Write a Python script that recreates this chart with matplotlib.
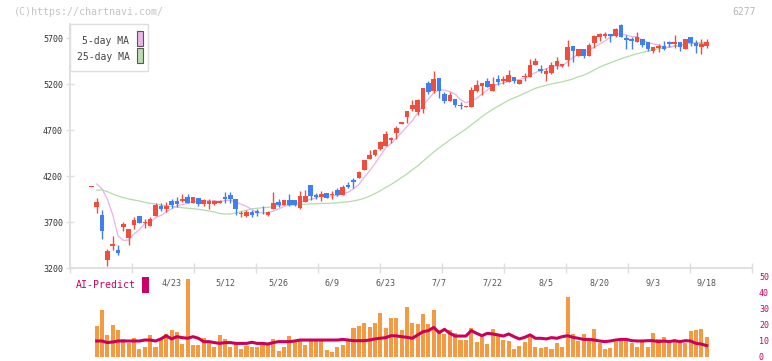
import numpy as np
import pandas as pd
import matplotlib
matplotlib.use("Agg")
import matplotlib.pyplot as plt
from matplotlib.patches import Rectangle
from matplotlib.transforms import blended_transform_factory

plt.rcParams['font.family'] = ['DejaVu Sans Mono']

# ---------------- data ----------------
opens = [4080, 3866, 3776, 3287, 3439, 3396, 3649, 3529, 3667, 3765,
         3692, 3660, 3765, 3870, 3845, 3928, 3928, 3928, 3972, 3910,
         3957, 3892, 3892, 3896, 3910, 3975, 3997, 3950, 3787, 3765,
         3812, 3823, 3812, 3776, 3841, 3914, 3885, 3939, 3939, 3856,
         3921, 4102, 3993, 3968, 4018, 3990, 4048, 3993, 4102, 4157,
         4182, 4265, 4385, 4428, 4490, 4530, 4591, 4671, 4762, 4845,
         4925, 4900, 4925, 5207, 5124, 5269, 5091, 5019, 5037, 4972,
         4946, 4950, 5124, 5182, 5233, 5124, 5251, 5236, 5226, 5273,
         5197, 5280, 5280, 5407, 5363, 5305, 5323, 5396, 5396, 5461,
         5614, 5508, 5581, 5508, 5642, 5714, 5725, 5744, 5722, 5841,
         5700, 5689, 5660, 5689, 5653, 5555, 5595, 5613, 5660, 5631,
         5660, 5577, 5707, 5646, 5599, 5617]
highs = [4080, 3961, 3830, 3407, 3548, 3450, 3703, 3624, 3751, 3765,
         3729, 3758, 3903, 3903, 3916, 3946, 3975, 4004, 4001, 3972,
         3957, 3950, 3946, 3935, 3940, 4026, 4026, 3950, 3816, 3830,
         3830, 3841, 3874, 3820, 4026, 3950, 3939, 4004, 3939, 4040,
         4044, 4102, 4010, 4040, 4018, 4040, 4066, 4102, 4138, 4175,
         4254, 4374, 4483, 4494, 4584, 4693, 4628, 4744, 4790, 4907,
         5026, 5034, 5160, 5236, 5341, 5269, 5117, 5110, 5037, 5004,
         4961, 5164, 5240, 5215, 5262, 5280, 5298, 5290, 5356, 5273,
         5244, 5320, 5469, 5479, 5407, 5374, 5436, 5490, 5420, 5678,
         5614, 5581, 5581, 5642, 5733, 5751, 5762, 5744, 5809, 5852,
         5733, 5707, 5769, 5689, 5653, 5599, 5635, 5668, 5668, 5733,
         5660, 5689, 5707, 5682, 5689, 5689]
lows = [4080, 3795, 3515, 3222, 3396, 3341, 3605, 3450, 3624, 3686,
        3638, 3660, 3765, 3823, 3812, 3849, 3866, 3914, 3903, 3903,
        3877, 3877, 3837, 3890, 3905, 3903, 3903, 3776, 3758, 3751,
        3751, 3770, 3783, 3770, 3841, 3859, 3880, 3870, 3870, 3841,
        3921, 3939, 3950, 3932, 3964, 3950, 3983, 3993, 4066, 4073,
        4182, 4265, 4385, 4421, 4483, 4530, 4555, 4602, 4762, 4779,
        4903, 4859, 4885, 5088, 5106, 5048, 4997, 5019, 4946, 4925,
        4946, 4950, 5110, 5084, 5171, 5124, 5189, 5200, 5226, 5215,
        5197, 5236, 5280, 5407, 5320, 5236, 5305, 5363, 5390, 5396,
        5443, 5508, 5486, 5508, 5588, 5668, 5700, 5653, 5711, 5707,
        5584, 5584, 5660, 5602, 5555, 5537, 5548, 5570, 5606, 5588,
        5555, 5577, 5617, 5537, 5530, 5588]
closes = [4080, 3917, 3606, 3388, 3464, 3366, 3678, 3624, 3722, 3692,
          3703, 3733, 3885, 3841, 3874, 3888, 3892, 3950, 3910, 3972,
          3892, 3939, 3928, 3925, 3928, 3946, 3950, 3838, 3801, 3812,
          3776, 3797, 3805, 3812, 3903, 3885, 3939, 3885, 3885, 3983,
          3983, 3983, 3975, 4004, 3964, 3997, 3993, 4084, 4084, 4138,
          4247, 4374, 4428, 4483, 4573, 4657, 4617, 4725, 4790, 4907,
          4972, 5026, 5160, 5110, 5254, 5128, 5015, 5081, 4968, 4956,
          4961, 5135, 5189, 5215, 5171, 5200, 5218, 5251, 5298, 5233,
          5244, 5287, 5407, 5450, 5341, 5341, 5407, 5450, 5414, 5606,
          5559, 5581, 5508, 5624, 5721, 5740, 5744, 5722, 5798, 5714,
          5675, 5671, 5707, 5620, 5584, 5599, 5613, 5577, 5631, 5660,
          5606, 5689, 5646, 5609, 5638, 5660]

# moving averages at the start of the window (earlier data not shown)
ma5_head = [np.nan, 4113, 4060, 3950, 3780]
ma25_head = [np.nan, 4045, 4050, 4030, 4004, 3983, 3964, 3950, 3939, 3928,
             3914, 3903, 3896, 3885, 3877, 3870, 3862, 3855, 3850, 3845,
             3838, 3830, 3820, 3808]

# volume (candle 1 onward) and AI-Predict line
volume = [19.4, 29.4, 13.8, 20.0, 16.9, 11.0, 8.5, 11.7, 5.0, 6.5,
          13.8, 6.0, 11.7, 14.2, 16.9, 15.4, 8.1, 48.8, 7.5, 7.5,
          11.7, 8.5, 6.5, 13.8, 11.3, 6.5, 8.1, 4.8, 6.9, 6.0,
          6.0, 7.5, 7.5, 11.0, 3.8, 6.0, 13.1, 10.6, 11.0, 7.5,
          10.2, 10.6, 10.6, 4.4, 3.3, 6.0, 7.5, 10.6, 17.9, 19.4,
          21.5, 19.0, 21.5, 27.7, 18.3, 24.6, 24.2, 16.9, 31.5, 21.5,
          20.6, 26.9, 20.6, 29.4, 16.9, 14.4, 16.9, 15.2, 10.6, 10.6,
          18.3, 9.6, 12.7, 8.1, 17.5, 13.8, 10.6, 10.0, 4.8, 6.9,
          9.6, 12.7, 6.0, 5.8, 6.0, 5.0, 9.0, 6.5, 37.7, 14.4,
          10.0, 14.4, 10.6, 17.5, 9.0, 5.0, 5.8, 9.6, 10.0, 10.0,
          8.5, 6.5, 9.2, 6.0, 15.2, 11.3, 12.7, 9.0, 10.2, 9.0,
          9.0, 16.3, 16.9, 17.5, 12.7]
ai_predict = [10.0, 10.0, 9.0, 9.4, 10.0, 10.0, 10.0, 10.0, 10.0, 10.6,
              10.6, 10.0, 11.3, 13.3, 11.3, 12.7, 12.1, 11.7, 12.7, 11.7,
              9.6, 9.6, 9.0, 8.5, 9.0, 9.0, 8.5, 8.5, 8.5, 9.2,
              8.5, 8.5, 8.1, 9.0, 9.6, 9.6, 9.6, 10.0, 10.6, 10.6,
              10.6, 10.6, 10.6, 10.6, 10.6, 10.6, 11.0, 10.6, 10.2, 10.2,
              10.2, 10.6, 11.3, 11.7, 12.1, 13.3, 13.2, 12.7, 12.3, 11.7,
              13.8, 15.8, 16.5, 18.5, 15.2, 17.3, 14.8, 13.1, 13.1, 13.1,
              16.5, 14.8, 13.3, 14.8, 14.4, 13.8, 13.1, 14.4, 12.7, 11.3,
              12.3, 13.8, 11.7, 11.7, 11.3, 12.1, 11.7, 12.7, 13.3, 12.3,
              11.7, 11.0, 11.0, 10.6, 10.0, 9.6, 10.0, 10.6, 11.0, 11.0,
              10.2, 10.0, 10.0, 10.2, 10.2, 9.6, 10.0, 9.6, 10.2, 9.6,
              10.2, 10.0, 8.5, 8.1, 7.1]

date_labels = ['4/23', '5/12', '5/26', '6/9', '6/23', '7/7', '7/22', '8/5', '8/20', '9/3', '9/18']
date_idx = [15, 25, 35, 45, 55, 65, 75, 85, 95, 105, 115]
price_ticks = [3200, 3700, 4200, 4700, 5200, 5700]
vol_ticks = [0, 10, 20, 30, 40, 50]

# ---------------- derived ----------------
n = len(closes)
x = np.arange(n)
cs = pd.Series(closes, dtype=float)
ma5 = cs.rolling(5).mean().to_numpy()
ma25 = cs.rolling(25).mean().to_numpy()
ma5[:len(ma5_head)] = ma5_head
ma25[:len(ma25_head)] = ma25_head

RED = '#f04e3c'
BLUE = '#3f7ff0'
GRID = '#dedede'
W, H = 772, 361

fig = plt.figure(figsize=(W / 100, H / 100), dpi=100)

def fx(px):
    return px / W

def fy(py):
    return 1 - py / H

ax_left, ax_right = 70, 752
step = 5.351
x0px = 91.3
xlim = ((ax_left - x0px) / step, (ax_right - x0px) / step)

# ---------------- lower panel (drawn first, transparent background) ----------------
ax2 = fig.add_axes([fx(ax_left), fy(357), fx(ax_right - ax_left), 80 / H])
ax2.set_facecolor('none')
ax2.set_xlim(*xlim)
ax2.set_ylim(0, 50)
ax2.bar(x[1:], volume, width=0.76, color='#f39a42', linewidth=0, zorder=1)
ax2.plot(x[1:], ai_predict, color='#cc0058', lw=2.2, zorder=2)
for s in ax2.spines.values():
    s.set_visible(False)
ax2.set_xticks([])
ax2.yaxis.tick_right()
ax2.set_yticks(vol_ticks)
ax2.set_yticklabels([str(v) for v in vol_ticks])
ax2.tick_params(axis='y', length=0, labelsize=6, labelcolor='#cc0066', pad=5)

# ---------------- main panel ----------------
ax = fig.add_axes([fx(ax_left), fy(268), fx(ax_right - ax_left), (268 - 24) / H])
ax.set_facecolor('none')
ax.set_xlim(*xlim)
ymin = 3200
ymax = 3200 + 244 * 500 / 46
ax.set_ylim(ymin, ymax)

# moving averages
ax.plot(x, ma25, color='#b4dca8', lw=0.9, zorder=1)
ax.plot(x, ma5, color='#e8b2ea', lw=0.9, zorder=1)

# candles
o = np.array(opens, float); c = np.array(closes, float)
h = np.array(highs, float); l = np.array(lows, float)
up = c >= o
cols = np.where(up, RED, BLUE)
ax.vlines(x, l, h, colors=cols, lw=1.0, zorder=2)
bottoms = np.minimum(o, c)
heights = np.maximum(np.abs(c - o), 9)
ax.bar(x, heights, bottom=bottoms, width=0.86, color=cols, zorder=3, linewidth=0)

for s in ['top', 'right']:
    ax.spines[s].set_visible(False)
for s in ['left', 'bottom']:
    ax.spines[s].set_color(GRID)
    ax.spines[s].set_linewidth(1.3)
ax.set_yticks(price_ticks)
ax.set_yticklabels([str(v) for v in price_ticks])
ax.tick_params(axis='y', direction='inout', length=6, width=1, color=GRID,
               labelsize=6, labelcolor='#333333', pad=2)
xt = [(ax_left + 62 * k - x0px) / step for k in range(0, 12)]
ax.set_xticks(xt)
ax.set_xticklabels([])
ax.tick_params(axis='x', direction='inout', length=6.5, width=1, color=GRID)

# date labels
tr = blended_transform_factory(ax.transData, fig.transFigure)
for i, lab in zip(date_idx, date_labels):
    ax.text(i, fy(283), lab, transform=tr, ha='center', va='center',
            fontsize=6, color='#555555', clip_on=False, zorder=10)

# legend (manual)
fig.patches.append(Rectangle((fx(70), fy(71)), fx(78), (71 - 24) / H, transform=fig.transFigure,
                             facecolor='white', edgecolor=GRID, lw=1.0, zorder=5))
fig.text(fx(129.5), fy(40.5), '5-day MA', ha='right', va='center', fontsize=7, color='#444444', zorder=6)
fig.text(fx(129.5), fy(56.5), '25-day MA', ha='right', va='center', fontsize=7, color='#444444', zorder=6)
fig.patches.append(Rectangle((fx(137), fy(46)), fx(5.5), 15 / H, transform=fig.transFigure,
                             facecolor='#eab6ea', edgecolor='#555555', lw=0.8, zorder=6))
fig.patches.append(Rectangle((fx(137), fy(63)), fx(5.5), 15 / H, transform=fig.transFigure,
                             facecolor='#b9ddae', edgecolor='#555555', lw=0.8, zorder=6))

# watermark and code
fig.text(fx(14), fy(12), '(C)https://chartnavi.com/', ha='left', va='center', fontsize=7.2, color='#c4c4c4')
fig.text(fx(756), fy(12), '6277', ha='right', va='center', fontsize=7, color='#b8b8b8')

fig.text(fx(76), fy(285), 'AI-Predict', ha='left', va='center', fontsize=7.1, color='#cc0066')
fig.patches.append(Rectangle((fx(142), fy(293)), fx(6.5), 16 / H, transform=fig.transFigure,
                             facecolor='#cc0066', edgecolor='none'))

fig.savefig('out.png', dpi=100)
